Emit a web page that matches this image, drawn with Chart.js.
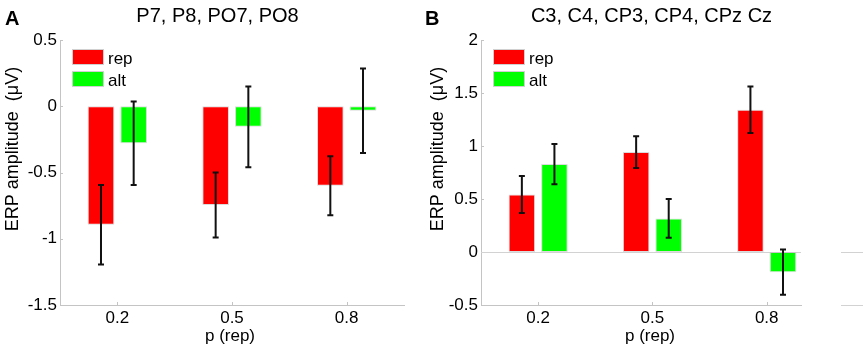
<!DOCTYPE html>
<html>
<head>
<meta charset="utf-8">
<script src="https://cdn.jsdelivr.net/npm/chart.js@4.4.1/dist/chart.umd.min.js"></script>
<style>
  body { margin: 0; background: #fff; }
  #wrap { position: relative; width: 866px; height: 351px; }
  canvas { position: absolute; top: 0; }
  #panelA { left: 0; }
  #panelB { left: 420px; }
</style>
</head>
<body>
<div id="wrap">
  <canvas id="panelA" width="420" height="351"></canvas>
  <canvas id="panelB" width="446" height="351"></canvas>
</div>
<script>
// Data
const categories = ["0.2", "0.5", "0.8"];
const seriesNames = ["rep", "alt"];

const repA = [-0.895, -0.745, -0.60];
const repErrA = [0.30, 0.245, 0.222];
const altA = [-0.28, -0.155, -0.034];
const altErrA = [0.315, 0.305, 0.318];

const repB = [0.543, 0.943, 1.342];
const repErrB = [0.175, 0.15, 0.22];
const altB = [0.83, 0.317, -0.19];
const altErrB = [0.19, 0.183, 0.214];

const yTicksA = [-1.5, -1, -0.5, 0, 0.5];
const yTicksB = [-0.5, 0, 0.5, 1, 1.5, 2];

const FONT = '"Liberation Sans", Arial, Helvetica, sans-serif';
const AXIS_GREY = "#c4c4c4";
const RED = "#ff0000";
const GREEN = "#00ff00";

// Error bars on top of each bar
const errorBars = {
  id: "errorBars",
  afterDatasetsDraw(chart) {
    const ctx = chart.ctx;
    const y = chart.scales.y;
    ctx.save();
    ctx.strokeStyle = "#111";
    ctx.lineWidth = 2;
    chart.data.datasets.forEach((ds, i) => {
      chart.getDatasetMeta(i).data.forEach((bar, j) => {
        const v = ds.data[j].y, e = ds.errors[j];
        const top = y.getPixelForValue(v + e);
        const bot = y.getPixelForValue(v - e);
        ctx.beginPath();
        ctx.moveTo(bar.x, top); ctx.lineTo(bar.x, bot);
        ctx.moveTo(bar.x - 3, top); ctx.lineTo(bar.x + 3, top);
        ctx.moveTo(bar.x - 3, bot); ctx.lineTo(bar.x + 3, bot);
        ctx.stroke();
      });
    });
    ctx.restore();
  }
};

// Inward ticks, zero line, labels and the little legend
const panelDeco = {
  id: "panelDeco",
  beforeDatasetsDraw(chart, args, o) {
    const ctx = chart.ctx, ca = chart.chartArea;
    const x = chart.scales.x, y = chart.scales.y;
    ctx.save();
    ctx.strokeStyle = AXIS_GREY;
    ctx.lineWidth = 1;
    ctx.beginPath();
    y.ticks.forEach(t => {
      const py = Math.round(y.getPixelForValue(t.value)) + 0.5;
      ctx.moveTo(ca.left, py); ctx.lineTo(ca.left + 3, py);
    });
    x.ticks.forEach(t => {
      const px = Math.round(x.getPixelForValue(t.value)) + 0.5;
      ctx.moveTo(px, ca.bottom); ctx.lineTo(px, ca.bottom - 3);
    });
    ctx.stroke();
    if (o.zeroLine) {
      const py = Math.round(y.getPixelForValue(0)) + 0.5;
      ctx.strokeStyle = "#d2d2d2";
      ctx.beginPath();
      ctx.moveTo(ca.left, py); ctx.lineTo(ca.right, py);
      // stray axis stubs at the right edge of the figure
      ctx.moveTo(ca.right + 40, py); ctx.lineTo(chart.width - 3, py);
      const pb = Math.round(ca.bottom) + 0.5;
      ctx.moveTo(ca.right + 40, pb); ctx.lineTo(chart.width - 3, pb);
      ctx.stroke();
    }
    ctx.restore();
  },
  afterDraw(chart, args, o) {
    const ctx = chart.ctx, ca = chart.chartArea;
    ctx.save();
    ctx.fillStyle = "#000";
    ctx.textBaseline = "alphabetic";

    ctx.font = "bold 20px " + FONT;
    ctx.textAlign = "left";
    ctx.fillText(o.letter, 5, 25);

    ctx.font = "20px " + FONT;
    ctx.textAlign = "center";
    ctx.fillText(o.title, o.titleX, 21.5);

    ctx.font = "17px " + FONT;
    ctx.fillText("p (rep)", o.xTitleX, 341);

    ctx.save();
    ctx.translate(o.yTitleX, 149);
    ctx.rotate(-Math.PI / 2);
    ctx.font = "18px " + FONT;
    ctx.textBaseline = "middle";
    ctx.fillText("ERP amplitude  (\u03bcV)", 0, 0);
    ctx.restore();

    // legend
    ctx.font = "17px " + FONT;
    ctx.textAlign = "left";
    chart.data.datasets.forEach((ds, i) => {
      const bx = ca.left + 12, by = ca.top + 9 + i * 22;
      ctx.fillStyle = ds.backgroundColor;
      ctx.fillRect(bx, by, 32, 16);
      ctx.strokeStyle = "#d0d0d0";
      ctx.strokeRect(bx + 0.5, by + 0.5, 31, 15);
      ctx.fillStyle = "#000";
      ctx.fillText(ds.label, ca.left + 48, ca.top + 23.5 + i * 22.5);
    });
    ctx.restore();
  }
};

// Render one panel
function renderPanel(id, rep, repErr, alt, altErr, yTicks, cfg) {
  const toPoints = vals => vals.map((v, i) => ({ x: i + 1, y: v }));
  const tickFont = { family: FONT, size: 17 };
  return new Chart(document.getElementById(id), {
    type: "bar",
    data: {
      datasets: [
        { label: seriesNames[0], data: toPoints(rep), errors: repErr,
          backgroundColor: RED, borderColor: "rgba(190,190,190,0.55)", borderWidth: 1, borderSkipped: false },
        { label: seriesNames[1], data: toPoints(alt), errors: altErr,
          backgroundColor: GREEN, borderColor: "rgba(190,190,190,0.55)", borderWidth: 1, borderSkipped: false }
      ]
    },
    options: {
      responsive: false,
      animation: false,
      categoryPercentage: 0.57,
      barPercentage: 0.815,
      layout: { padding: { left: 0, top: 40, right: cfg.padRight, bottom: 0 } },
      plugins: {
        legend: { display: false },
        tooltip: { enabled: false },
        panelDeco: cfg.deco
      },
      scales: {
        x: {
          type: "linear",
          offset: false,
          min: 0.5,
          max: cfg.xMax,
          grid: { display: false, drawTicks: false, offset: false },
          border: { display: true, color: AXIS_GREY, width: 1 },
          afterBuildTicks: s => { s.ticks = categories.map((c, i) => ({ value: i + 1 })); },
          afterFit: s => { s.height = 46; },
          ticks: { font: tickFont, color: "#000", padding: 3, maxRotation: 0,
                   callback: v => categories[v - 1] }
        },
        y: {
          min: yTicks[0],
          max: yTicks[yTicks.length - 1],
          grid: { display: false, drawTicks: false },
          border: { display: true, color: AXIS_GREY, width: 1 },
          afterBuildTicks: s => { s.ticks = yTicks.map(v => ({ value: v })); },
          afterFit: s => { s.width = cfg.yWidth; },
          ticks: { font: tickFont, color: "#000", padding: 3, callback: v => String(v) }
        }
      }
    },
    plugins: [panelDeco, errorBars]
  });
}

renderPanel("panelA", repA, repErrA, altA, altErrA, yTicksA, {
  padRight: 16, xMax: 3.5, yWidth: 60,
  deco: { letter: "A", title: "P7, P8, PO7, PO8", titleX: 217.5, xTitleX: 230, yTitleX: 13, zeroLine: false }
});

renderPanel("panelB", repB, repErrB, altB, altErrB, yTicksB, {
  padRight: 65, xMax: 3.3, yWidth: 61,
  deco: { letter: "B", title: "C3, C4, CP3, CP4, CPz Cz", titleX: 231.5, xTitleX: 230, yTitleX: 18.5, zeroLine: true }
});
</script>
</body>
</html>
